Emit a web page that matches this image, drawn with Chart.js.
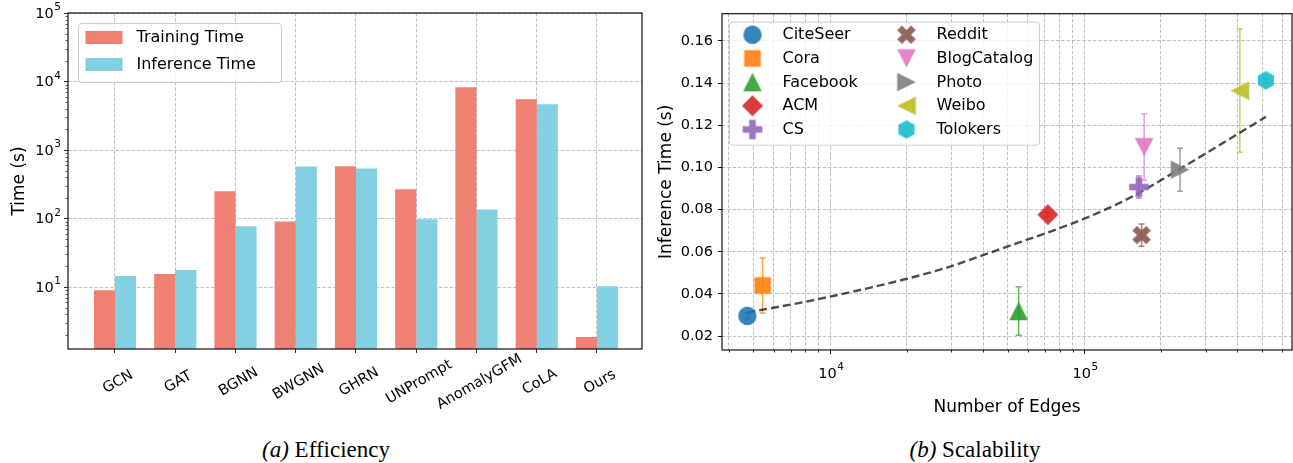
<!DOCTYPE html>
<html>
<head>
<meta charset="utf-8">
<script src="https://cdn.jsdelivr.net/npm/chart.js@4.4.1/dist/chart.umd.min.js"></script>
<style>
  body { margin: 0; background: #fff; width: 1293px; height: 463px; position: relative; overflow: hidden; font-family: 'DejaVu Sans'; }
  canvas { position: absolute; top: 0; }
  #effChart { left: 0; }
  #scaleChart { left: 650px; }
  .caption { position: absolute; top: 438px; font-family: 'Liberation Serif', serif; font-size: 23px; line-height: 23px; white-space: nowrap; transform: translateX(-50%); }
</style>
</head>
<body>
<canvas id="effChart" width="650" height="430"></canvas>
<canvas id="scaleChart" width="643" height="430"></canvas>
<div class="caption" style="left:326px"><i>(a)</i> Efficiency</div>
<div class="caption" style="left:975px"><i>(b)</i> Scalability</div>
<script>
// (a) efficiency
const methods = ['GCN', 'GAT', 'BGNN', 'BWGNN', 'GHRN', 'UNPrompt', 'AnomalyGFM', 'CoLA', 'Ours'];
const trainingTime = [9.0, 15.5, 250, 91, 580, 267, 8260, 5520, 1.87];
const inferenceTime = [14.5, 17.7, 77, 577, 540, 98, 136, 4680, 10.3];
const timeTicks = [10, 100, 1000, 10000, 100000];
const timeTickExps = ['1', '2', '3', '4', '5'];   // labels 10^1 .. 10^5

// (b) scalability
const datasetNames = ['CiteSeer', 'Cora', 'Facebook', 'ACM', 'CS', 'Reddit', 'BlogCatalog', 'Photo', 'Weibo', 'Tolokers'];
const edgeCounts = [4730, 5430, 55200, 71900, 164000, 168000, 172000, 238000, 409000, 518000];
const inferTimes = [0.0296, 0.044, 0.0319, 0.0776, 0.0907, 0.0679, 0.1096, 0.0989, 0.1364, 0.1413];
const inferErrors = [0.0015, 0.013, 0.0115, 0.001, 0.0052, 0.0053, 0.0157, 0.0102, 0.0292, 0.001];
const trendEdges = [4730, 5310, 10000, 27080, 45240, 100000, 151200, 237700, 518000];
const trendTimes = [0.0313, 0.0323, 0.0387, 0.0515, 0.0607, 0.0757, 0.0856, 0.0993, 0.1240];
const inferTickValues = [0.02, 0.04, 0.06, 0.08, 0.10, 0.12, 0.14, 0.16];
const edgeTickValues = [4000, 5000, 6000, 7000, 8000, 9000, 10000, 20000, 30000, 40000, 50000, 60000, 70000, 80000, 90000,
  100000, 200000, 300000, 400000, 500000, 600000];
const edgeMajorTicks = [10000, 100000];
const edgeMajorExps = ['4', '5'];   // labels 10^4, 10^5

const markerShapes = ['circle', 'square', 'triUp', 'diamond', 'plus', 'xmark', 'triDown', 'triRight', 'triLeft', 'hexagon'];
const markerColors = ['rgba(31,119,180,0.9)', 'rgba(255,127,14,0.9)', 'rgba(44,160,44,0.9)', 'rgba(214,39,40,0.9)',
  'rgba(148,103,189,0.9)', 'rgba(140,86,75,0.9)', 'rgba(227,119,194,0.9)', 'rgba(127,127,127,0.9)',
  'rgba(188,189,34,0.9)', 'rgba(23,190,207,0.9)'];

const FONT = "'DejaVu Sans'";
Chart.defaults.font.family = FONT;
Chart.defaults.color = '#000';
const tickFont = { family: FONT, size: 14.5 };
const titleFont = { family: FONT, size: 17 };
const gridColor = 'rgba(176,176,176,0.8)';
const gridDash = [3.5, 1.8];
const trainColor = 'rgb(239,129,116)';
const inferColor = 'rgb(131,208,226)';

function polygon(g, pts) {
    g.beginPath();
    g.moveTo(pts[0][0], pts[0][1]);
    for (let i = 1; i < pts.length; i++) g.lineTo(pts[i][0], pts[i][1]);
    g.closePath();
}

function makeMarker(shape, color) {
    const c = document.createElement('canvas');
    c.width = 24; c.height = 24;
    const g = c.getContext('2d');
    g.translate(12, 12);
    g.fillStyle = color;
    const t = 9.3, L = 9.8, w = 3.3;
    const plus = [[-w, -L], [w, -L], [w, -w], [L, -w], [L, w], [w, w], [w, L], [-w, L], [-w, w], [-L, w], [-L, -w], [-w, -w]];
    if (shape === 'circle') { g.beginPath(); g.arc(0, 0, 9.2, 0, Math.PI * 2); }
    else if (shape === 'square') { g.beginPath(); g.rect(-8.3, -8.3, 16.6, 16.6); }
    else if (shape === 'triUp') polygon(g, [[0, -t], [t, t], [-t, t]]);
    else if (shape === 'triDown') polygon(g, [[0, t], [t, -t], [-t, -t]]);
    else if (shape === 'triRight') polygon(g, [[t, 0], [-t, -t], [-t, t]]);
    else if (shape === 'triLeft') polygon(g, [[-t, 0], [t, -t], [t, t]]);
    else if (shape === 'diamond') polygon(g, [[0, -10.5], [10.5, 0], [0, 10.5], [-10.5, 0]]);
    else if (shape === 'plus') polygon(g, plus);
    else if (shape === 'xmark') { g.rotate(Math.PI / 4); polygon(g, plus); }
    else if (shape === 'hexagon') {
        const pts = [];
        for (let k = 0; k < 6; k++) {
            const a = -Math.PI / 2 + k * Math.PI / 3;
            pts.push([9.3 * Math.cos(a), 9.3 * Math.sin(a)]);
        }
        polygon(g, pts);
    }
    g.fill();
    return c;
}
const markers = markerShapes.map((s, i) => makeMarker(s, markerColors[i]));

function drawFrame(chart) {
    const { ctx, chartArea: a } = chart;
    ctx.save();
    ctx.strokeStyle = '#111';
    ctx.lineWidth = 1.2;
    ctx.strokeRect(a.left, a.top, a.right - a.left, a.bottom - a.top);
    ctx.restore();
}

function roundBox(ctx, x, y, w, h, r) {
    ctx.beginPath();
    ctx.roundRect(x, y, w, h, r);
    ctx.fillStyle = 'rgba(255,255,255,0.8)';
    ctx.fill();
    ctx.strokeStyle = '#cccccc';
    ctx.lineWidth = 1;
    ctx.stroke();
}

// "10" with a raised exponent, like matplotlib mathtext; align = 'right' | 'center'
function drawPow10(ctx, exp, x, y, align) {
    ctx.save();
    ctx.fillStyle = '#000';
    ctx.textBaseline = 'middle';
    ctx.textAlign = 'left';
    ctx.font = '14.5px ' + FONT;
    const wBase = ctx.measureText('10').width;
    ctx.font = '10.5px ' + FONT;
    const wExp = ctx.measureText(exp).width;
    const total = wBase + wExp + 0.5;
    const x0 = align === 'right' ? x - total : x - total / 2;
    ctx.font = '14.5px ' + FONT;
    ctx.fillText('10', x0, y);
    ctx.font = '10.5px ' + FONT;
    ctx.fillText(exp, x0 + wBase + 0.5, y - 6.5);
    ctx.restore();
}

const effDecor = {
    id: 'effDecor',
    afterDraw(chart) {
        const { ctx, chartArea: a, scales } = chart;
        drawFrame(chart);
        ctx.save();
        // minor log ticks
        ctx.strokeStyle = '#333';
        ctx.lineWidth = 0.8;
        for (let k = 0; k < 5; k++) {
            for (let m = 2; m < 10; m++) {
                const v = m * Math.pow(10, k);
                if (v < scales.y.min || v > scales.y.max) continue;
                const py = Math.round(scales.y.getPixelForValue(v)) + 0.5;
                ctx.beginPath(); ctx.moveTo(a.left - 2.5, py); ctx.lineTo(a.left, py); ctx.stroke();
            }
        }
        // y tick labels
        timeTicks.forEach((v, i) => drawPow10(ctx, timeTickExps[i], a.left - 7, scales.y.getPixelForValue(v) + 1, 'right'));
        // rotated category labels
        ctx.fillStyle = '#000';
        ctx.font = '14.5px ' + FONT;
        ctx.textAlign = 'center';
        ctx.textBaseline = 'middle';
        methods.forEach((m, i) => {
            const px = scales.x.getPixelForValue(i);
            ctx.save();
            ctx.translate(px + 3, a.bottom + 33);
            ctx.rotate(-Math.PI / 6);
            ctx.fillText(m, 0, 0);
            ctx.restore();
        });
        // legend
        const lx = a.left + 10.5, ly = a.top + 10.5;
        roundBox(ctx, lx, ly, 203, 59, 3);
        const entries = [['Training Time', trainColor], ['Inference Time', inferColor]];
        ctx.font = '16px ' + FONT;
        ctx.textAlign = 'left';
        entries.forEach((e, i) => {
            const ry = ly + 14 + i * 27;
            ctx.fillStyle = e[1];
            ctx.fillRect(lx + 7, ry - 6.5, 37, 13);
            ctx.fillStyle = '#000';
            ctx.fillText(e[0], lx + 58, ry + 0.5);
        });
        ctx.restore();
    }
};

new Chart(document.getElementById('effChart'), {
    type: 'bar',
    data: {
        datasets: [
            { label: 'Training Time', data: methods.map((m, i) => ({ x: i, y: trainingTime[i] })), backgroundColor: trainColor },
            { label: 'Inference Time', data: methods.map((m, i) => ({ x: i, y: inferenceTime[i] })), backgroundColor: inferColor }
        ]
    },
    options: {
        responsive: false,
        animation: false,
        layout: { autoPadding: false, padding: { top: 13, right: 8, left: 0, bottom: 0 } },
        datasets: { bar: { categoryPercentage: 0.7, barPercentage: 1.0 } },
        plugins: { legend: { display: false }, tooltip: { enabled: false } },
        scales: {
            x: {
                type: 'linear', offset: false, min: -0.78, max: 8.747,
                afterBuildTicks: s => { s.ticks = methods.map((m, i) => ({ value: i })); },
                afterFit: s => { s.height = 81; },
                ticks: { display: false },
                grid: { offset: false, color: gridColor, tickColor: '#333', tickLength: 4 },
                border: { display: false, dash: gridDash }
            },
            y: {
                type: 'logarithmic', min: 1.25, max: 100000,
                afterBuildTicks: s => { s.ticks = timeTicks.map(v => ({ value: v })); },
                afterFit: s => { s.width = 68; },
                ticks: { font: tickFont, padding: 4, autoSkip: false, callback: () => '' },
                grid: { color: gridColor, tickColor: '#333', tickLength: 4 },
                border: { display: false, dash: gridDash },
                title: { display: true, text: 'Time (s)', font: titleFont, color: '#000', padding: { top: 9, bottom: 0 } }
            }
        }
    },
    plugins: [effDecor]
});

const scaleDecor = {
    id: 'scaleDecor',
    beforeDatasetsDraw(chart) {
        const { ctx, scales } = chart;
        ctx.save();
        ctx.lineWidth = 1.5;
        edgeCounts.forEach((e, i) => {
            const px = scales.x.getPixelForValue(e);
            const y1 = scales.y.getPixelForValue(inferTimes[i] - inferErrors[i]);
            const y2 = scales.y.getPixelForValue(inferTimes[i] + inferErrors[i]);
            ctx.strokeStyle = markerColors[i].replace('0.9)', '0.75)');
            ctx.beginPath();
            ctx.moveTo(px, y1); ctx.lineTo(px, y2);
            ctx.moveTo(px - 3, y1); ctx.lineTo(px + 3, y1);
            ctx.moveTo(px - 3, y2); ctx.lineTo(px + 3, y2);
            ctx.stroke();
        });
        ctx.restore();
    },
    afterDraw(chart) {
        const { ctx, chartArea: a, scales } = chart;
        drawFrame(chart);
        ctx.save();
        // minor x ticks
        ctx.strokeStyle = '#000';
        ctx.lineWidth = 0.8;
        edgeTickValues.forEach(v => {
            if (edgeMajorTicks.includes(v)) return;
            const px = Math.round(scales.x.getPixelForValue(v)) + 0.5;
            ctx.beginPath(); ctx.moveTo(px, a.bottom); ctx.lineTo(px, a.bottom + 2.5); ctx.stroke();
        });
        // major x tick labels
        edgeMajorTicks.forEach((v, i) => drawPow10(ctx, edgeMajorExps[i], scales.x.getPixelForValue(v) + 1, a.bottom + 24, 'center'));
        // legend
        const lx = a.left + 7.5, ly = a.top + 8.5;
        roundBox(ctx, lx, ly, 310, 123, 3);
        ctx.font = '16px ' + FONT;
        ctx.fillStyle = '#000';
        ctx.textAlign = 'left';
        ctx.textBaseline = 'middle';
        datasetNames.forEach((n, i) => {
            const col = Math.floor(i / 5), row = i % 5;
            const ry = ly + 12.5 + row * 23.7;
            const mx = lx + 23 + col * 154;
            ctx.drawImage(markers[i], mx - 12, ry - 12);
            ctx.fillText(n, mx + 30, ry + 0.5);
        });
        ctx.restore();
    }
};

const scatterSets = datasetNames.map((n, i) => ({
    label: n,
    data: [{ x: edgeCounts[i], y: inferTimes[i] }],
    pointStyle: markers[i],
    pointRadius: 9,
    pointHoverRadius: 9,
    order: 0
}));

new Chart(document.getElementById('scaleChart'), {
    type: 'scatter',
    data: {
        datasets: scatterSets.concat([{
            type: 'line',
            label: 'trend',
            data: trendEdges.map((x, i) => ({ x: x, y: trendTimes[i] })),
            borderColor: 'rgba(0,0,0,0.7)',
            borderWidth: 2.4,
            borderDash: [8, 4],
            pointRadius: 0,
            fill: false,
            cubicInterpolationMode: 'monotone',
            order: 1
        }])
    },
    options: {
        responsive: false,
        animation: false,
        layout: { autoPadding: false, padding: { top: 12, right: 1, left: 0, bottom: 0 } },
        plugins: { legend: { display: false }, tooltip: { enabled: false } },
        scales: {
            x: {
                type: 'logarithmic', min: 3760, max: 656000,
                afterBuildTicks: s => { s.ticks = edgeTickValues.map(v => ({ value: v })); },
                afterFit: s => { s.height = 80; },
                ticks: { font: tickFont, padding: 10, autoSkip: false, maxRotation: 0, minRotation: 0, callback: () => '' },
                grid: {
                    color: gridColor, tickLength: 4,
                    tickColor: c => (c.tick && edgeMajorTicks.includes(c.tick.value)) ? '#000' : 'rgba(0,0,0,0)'
                },
                border: { display: false, dash: gridDash },
                title: { display: true, text: 'Number of Edges', font: titleFont, color: '#000', padding: { top: 0, bottom: 12 } }
            },
            y: {
                type: 'linear', min: 0.0134, max: 0.1729,
                afterBuildTicks: s => { s.ticks = inferTickValues.map(v => ({ value: v })); },
                afterFit: s => { s.width = 72; },
                ticks: { font: tickFont, color: '#000', padding: 5, callback: v => v.toFixed(2) },
                grid: { color: gridColor, tickColor: '#000', tickLength: 4 },
                border: { display: false, dash: gridDash },
                title: { display: true, text: 'Inference Time (s)', font: titleFont, color: '#000', padding: { top: 6, bottom: 0 } }
            }
        }
    },
    plugins: [scaleDecor]
});
</script>
</body>
</html>
